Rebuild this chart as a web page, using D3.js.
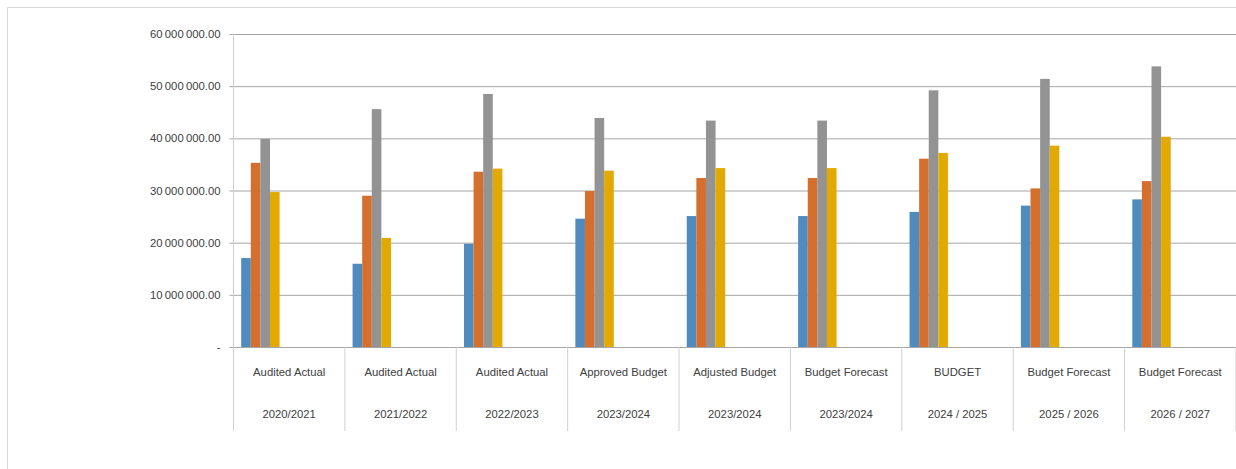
<!DOCTYPE html>
<html>
<head>
<meta charset="utf-8">
<script src="https://cdn.jsdelivr.net/npm/d3@7"></script>
<style>
  html, body { margin: 0; padding: 0; background: #fff; }
  svg text { font-family: "Liberation Sans Narrow", "Liberation Sans", Arial, sans-serif; fill: #404040; }
</style>
</head>
<body>
<svg id="chart" width="1236" height="469"></svg>
<script>
/* ------------ Data ----------------*/
const stages = ['Audited Actual', 'Audited Actual', 'Audited Actual', 'Approved Budget', 'Adjusted Budget',
  'Budget Forecast', 'BUDGET', 'Budget Forecast', 'Budget Forecast'];
const periods = ['2020/2021', '2021/2022', '2022/2023', '2023/2024', '2023/2024',
  '2023/2024', '2024 / 2025', '2025 / 2026', '2026 / 2027'];

const series1 = [17050000, 15960000, 19800000, 24600000, 25100000, 25100000, 25900000, 27100000, 28300000];
const series2 = [35300000, 29000000, 33600000, 29900000, 32400000, 32400000, 36100000, 30400000, 31800000];
const series3 = [39900000, 45600000, 48500000, 43900000, 43400000, 43400000, 49200000, 51400000, 53800000];
const series4 = [29700000, 20900000, 34200000, 33800000, 34300000, 34300000, 37200000, 38600000, 40300000];

const yTicks = [0, 10000000, 20000000, 30000000, 40000000, 50000000, 60000000];

const seriesList = [series1, series2, series3, series4];
const seriesColors = ['#508BBF', '#D46F2D', '#939393', '#E2AA00'];

/* ------------ Layout ----------------*/
const svg = d3.select('#chart');
const plotLeft = 233.5;
const plotRight = 1236;
const plotTop = 34;
const plotBottom = 347;
const labelBottom = 431;
const fontSize = '11.3px';

// outer chart border
svg.append('rect')
  .attr('x', 7.5)
  .attr('y', 7.5)
  .attr('width', 1240)
  .attr('height', 470)
  .attr('fill', 'none')
  .attr('stroke', '#D9D9D9');

const x0 = d3.scaleBand()
  .domain(d3.range(stages.length))
  .range([plotLeft, plotRight])
  .paddingInner(0)
  .paddingOuter(0);

// Excel clusters sit at the left of each category
const x1 = d3.scaleBand()
  .domain(d3.range(seriesList.length))
  .range([x0.bandwidth() * 0.069, x0.bandwidth() * 0.414])
  .padding(0);

const y = d3.scaleLinear()
  .domain([0, 60000000])
  .range([plotBottom, plotTop]);

const fmt = v => v === 0 ? '-' : d3.format(',.2f')(v).replace(/,/g, '\u2009');

/* ------------ Grid + y axis ----------------*/
const yAxis = d3.axisLeft(y)
  .tickValues(yTicks)
  .tickSize(plotRight - plotLeft + 4)
  .tickFormat(fmt);

const yAxisG = svg.append('g')
  .attr('transform', `translate(${plotRight},0)`)
  .call(yAxis);
yAxisG.select('.domain').remove();
yAxisG.selectAll('.tick line')
  .attr('stroke', '#A6A6A6')
  .attr('stroke-width', 1);
yAxisG.selectAll('.tick text')
  .attr('x', -(plotRight - plotLeft) - 13)
  .attr('font-size', fontSize)
  .attr('fill', '#404040');

// vertical axis line
svg.append('line')
  .attr('x1', plotLeft)
  .attr('x2', plotLeft)
  .attr('y1', plotTop)
  .attr('y2', labelBottom)
  .attr('stroke', '#D0D0D0')
  .attr('stroke-width', 1);

/* ------------ Bars ----------------*/
const groups = svg.append('g')
  .selectAll('g')
  .data(d3.range(stages.length))
  .join('g')
  .attr('transform', i => `translate(${x0(i)},0)`);

groups.selectAll('rect')
  .data(i => seriesList.map((s, k) => ({ k, v: s[i] })))
  .join('rect')
  .attr('x', d => x1(d.k))
  .attr('y', d => y(d.v))
  .attr('width', x1.bandwidth())
  .attr('height', d => plotBottom - y(d.v))
  .attr('fill', d => seriesColors[d.k]);

// baseline
svg.append('line')
  .attr('x1', plotLeft)
  .attr('x2', plotRight)
  .attr('y1', plotBottom + 0.5)
  .attr('y2', plotBottom + 0.5)
  .attr('stroke', '#A6A6A6');

/* ------------ Category labels ----------------*/
const dividers = d3.range(stages.length + 1).map(i => plotLeft + i * x0.step());
svg.append('g')
  .selectAll('line')
  .data(dividers)
  .join('line')
  .attr('x1', d => d)
  .attr('x2', d => d)
  .attr('y1', plotBottom)
  .attr('y2', labelBottom)
  .attr('stroke', '#D0D0D0');

const catG = svg.append('g')
  .selectAll('g')
  .data(d3.range(stages.length))
  .join('g')
  .attr('transform', i => `translate(${x0(i) + x0.bandwidth() / 2},0)`);

catG.append('text')
  .attr('text-anchor', 'middle')
  .attr('y', 376)
  .attr('font-size', fontSize)
  .text(i => stages[i]);

catG.append('text')
  .attr('text-anchor', 'middle')
  .attr('y', 418)
  .attr('font-size', fontSize)
  .text(i => periods[i]);
</script>
</body>
</html>
